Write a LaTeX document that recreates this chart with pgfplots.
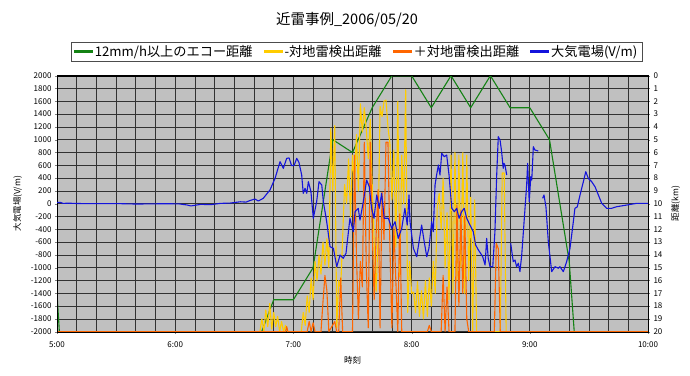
\documentclass[border=0pt]{standalone}
\usepackage{fontspec}
\setmainfont{Noto Sans CJK JP}
\usepackage{pgfplots}
\pgfplotsset{compat=1.18}
\definecolor{plotbg}{RGB}{192,192,192}
\definecolor{cgreen}{RGB}{20,130,20}
\definecolor{cyellow}{RGB}{255,204,0}
\definecolor{corange}{RGB}{255,102,0}
\definecolor{cblue}{RGB}{20,20,220}
\definecolor{cgrid}{RGB}{50,50,50}
\begin{document}
\begin{tikzpicture}
\useasboundingbox (0pt,0pt) rectangle (690pt,375pt);
\node[font=\fontsize{14.5}{16}\selectfont] at (347pt,355pt) {近雷事例\_2006/05/20};
% ---------- right axis: distances (km) ----------
\begin{axis}[at={(57pt,43.3pt)}, anchor=south west, scale only axis,
  width=591pt, height=256pt,
  xmin=0, xmax=300, ymin=0, ymax=20, y dir=reverse,
  axis background/.style={fill=plotbg},
  xtick={0,60,...,300}, minor xtick={0,10,...,300},
  xticklabels={5:00,6:00,7:00,8:00,9:00,10:00},
  ytick={0,1,...,20},
  xtick pos=bottom, ytick pos=right, yticklabel pos=right,
  tick align=outside, major tick length=2pt, minor tick length=0pt,
  grid=both, major grid style={cgrid, line width=0.7pt}, minor grid style={cgrid, line width=0.7pt},
  tick label style={font=\fontsize{8}{9}\selectfont},
  xticklabel style={yshift=-4pt},
  /pgf/number format/assume math mode=true,
  xlabel={時刻}, ylabel={距離(km)},
  label style={font=\fontsize{8.5}{10}\selectfont},
  xlabel style={yshift=-2pt},
  ylabel style={yshift=-2pt},
  unbounded coords=jump,
  every axis plot/.append style={line width=1.1pt, line join=round},
]
% 12mm/h echo distance
\addplot[cgreen] coordinates {
(0,17.0) (10,42) (100,21.6) (110,17.5) (120,17.5) (130,15.0) (140,5.0) (150,6.0)
(160,2.5) (170,0) (180,0) (190,2.5) (200,0) (210,2.5) (220,0) (230,2.5) (240,2.5)
(250,5.0) (260,14.5) (270,36)
};
% - lightning distance
\addplot[cyellow] coordinates {
(0,20) (103,20) (104,19) (105,20) (106,18.3) (107,19.6) (108,17.8) (109,19.8) (110,18.5)
(111,19.6) (112,18.8) (113,20) (114,19.2) (115,20) (116,19.5) (117,20) (124,20)
(125,18.5) (126,19.5) (127,17.2) (128,18.5) (129,15.8) (130,17.5) (131,14.5) (132,16)
(133,14) (134,15.5) (135,13) (136,14.8) (137,12.7) (138,15) (139,4.1) (140,9) (141,3.9)
(142,19.7) (143,16) (144,16.6) (145,12.6) (146,8.5) (147,10) (148,6.5) (149,11) (150,6.2)
(151,8.5) (152,4.6) (153,9) (154,2.2) (155,4.4) (156,2.5) (157,4.2) (158,6.5) (159,3.4)
(160,8.5) (161,13) (162,16.9) (163,12.5) (164,2.4) (165,3.2) (166,2) (167,1.9) (168,4)
(169,5.3) (170,9.7) (171,5.8) (172,13.4) (173,2) (174,15.7) (175,6.2) (176,10) (177,1.1)
(178,18.5) (179,14.5) (180,17) (181,16.9) (182,18.5) (183,16.1) (184,18.8) (185,16.8)
(186,19) (187,16) (188,18.8) (189,15.8) (190,18) (191,14.5) (192,17) (193,10.3) (194,9.2)
(195,12) (196,8) (197,15) (198,10.7) (199,17.5) (200,6.2) (201,17) (202,6) (203,16)
(204,6.2) (205,15) (206,6) (207,17) (208,6.2) (209,16) (210,9.5) (211,20) (212,9.7)
(213,20) (225,20) (226,7.6) (227,7.6) (228,20) (300,20)
};
% + lightning distance
\addplot[corange] coordinates {
(0,20) (116,20) (116.6,19.6) (117.2,20) (127,20) (128,19.2) (129,20) (130,19.3) (131,20)
(134,20) (135,17.7) (136,15.6) (137,16.8) (138,20) (141,19.2) (142,20) (143,20)
(144,15.8) (145,20) (150,20) (151,6.2) (152,14) (153,19) (154,14.5) (155,16.5) (156,5.2)
(157,15) (158,19.7) (159,5.2) (160,12) (161,17.5) (162,12.4) (163,8.9) (164,19.7)
(165,9.1) (166,12.8) (167,5.2) (168,5.2) (169,13.4) (170,19.7) (171,11.8) (172,16)
(173,20) (174,10.8) (175,20) (188,20) (189,19.5) (190,20) (195,20) (196,15.6) (197,20)
(198,16.5) (199,20) (202,20) (203,10.1) (204,18) (205,10.5) (206,17) (207,11) (208,19)
(209,20) (222,20) (223,13.1) (224,13.5) (225,20) (300,20)
};
\end{axis}
% ---------- left axis: electric field (V/m) ----------
\begin{axis}[at={(57pt,43.3pt)}, anchor=south west, scale only axis,
  width=591pt, height=256pt,
  xmin=0, xmax=300, ymin=-2000, ymax=2000,
  xtick=\empty,
  ytick={-2000,-1800,...,2000},
  ytick pos=left, yticklabel pos=left,
  tick align=outside, major tick length=2pt,
  tick label style={font=\fontsize{8}{9}\selectfont},
  /pgf/number format/assume math mode=true,
  /pgf/number format/set thousands separator={},
  ylabel={大気電場(V/m)},
  label style={font=\fontsize{8.5}{10}\selectfont},
  ylabel style={yshift=2pt},
  unbounded coords=jump,
  legend columns=4,
  legend style={at={(0.5,1)}, anchor=south, yshift=14.7pt, xshift=4pt, draw=black!70,
    font=\fontsize{13.2}{14.5}\selectfont, inner xsep=3pt, inner ysep=1pt,
    /tikz/every even column/.append style={column sep=9pt}},
  every axis plot/.append style={line width=1.1pt, line join=round},
]
\addlegendimage{legend image code/.code={\fill[fill=cgreen,draw=none] (0pt,-1.1pt) rectangle (19pt,1.1pt);}}
\addlegendentry{12mm/h以上のエコー距離}
\addlegendimage{legend image code/.code={\fill[fill=cyellow,draw=none] (0pt,-1.1pt) rectangle (19pt,1.1pt);}}
\addlegendentry{-対地雷検出距離}
\addlegendimage{legend image code/.code={\fill[fill=corange,draw=none] (0pt,-1.1pt) rectangle (19pt,1.1pt);}}
\addlegendentry{＋対地雷検出距離}
\addplot[cblue, legend image code/.code={\fill[fill=cblue,draw=none] (0pt,-1.1pt) rectangle (19pt,1.1pt);}] coordinates {
(0,20) (2,18) (3,5) (6,8) (10,3) (20,0) (30,2) (40,-5) (47,-3) (55,0) (62,-3) (66,-20)
(68,-35) (70,-25) (73,-10) (78,-15) (83,5) (88,10) (93,30) (96,25) (98,50) (100.5,73)
(102.2,42) (104.7,84) (108.1,214) (110.7,397) (113.2,656) (114.9,553) (116.6,709)
(117.8,715) (119.1,594) (120.4,600) (121.7,709) (122.8,647) (124.2,449) (125,162)
(125.9,240) (126.8,162) (127.6,344) (128.9,190) (130.1,-228) (131.8,31) (133,344)
(134.4,292) (135.2,31) (136.9,-281) (138.6,-672) (140.3,-697) (142,-984) (143.7,-802)
(145.3,-853) (146.7,-775) (148.7,-228) (150.4,-437) (151.3,-125) (152.9,-72)
(153.8,-255) (155.5,31) (157.2,370) (158.5,266) (159.7,-72) (160.9,-228) (162.3,136)
(163.6,-72) (164.8,162) (166.1,-228) (168.2,-228) (169.9,-384) (171.6,-281)
(173.2,-541) (175,-384) (176.6,-72) (177.8,-333) (178.7,136) (179.2,-281) (180.9,-697)
(182.6,-828) (185.1,-333) (186.4,-594) (187.7,-828) (188.8,-697) (190.2,-281)
(191,-437) (191.9,292) (192.7,449) (193.6,605) (194.4,449) (195.3,787) (196.6,734)
(197.8,761) (199,449) (200.4,-72) (201.7,-125) (202.9,-72) (204.1,-228) (205.4,-125)
(206.7,-72) (208,-228) (209.6,-333) (211.3,-437) (212.5,-645) (213.9,-723)
(215.6,-802) (216.1,-828) (217.3,-958) (218.1,-541) (218.9,-853) (219.8,-984)
(221.2,-984) (222.3,-437) (223.2,449) (224,1047) (224.9,995) (225.7,812) (226.5,553)
(226.9,631) (227.4,600) (228.3,449) (229,nan) (230.3,-619) (231.6,-906) (232.5,-880)
(233.3,-984) (234.2,-930) (235,-1062) (235.9,-802) (237.1,-281) (238.4,292)
(238.9,631) (239.7,31) (240.5,422) (241,370) (241.8,891) (242.6,839) (244.3,823)
(245,nan) (246.5,84) (247.2,136) (248.2,-50) (249.4,-594) (251.1,-1062) (252.8,-984)
(254.5,-1009) (255.3,-984) (257,-1062) (258.7,-906) (260.4,-697) (262.1,-281)
(262.9,-72) (264.1,-50) (265.5,136) (267.2,344) (268.4,500) (269.7,397) (271.4,344)
(273.1,266) (274.8,136) (276.5,6) (279,-72) (281.5,-72) (284.1,-47) (289.2,-21)
(294.3,6) (300,6)
};
\addlegendentry{大気電場(V/m)}
\end{axis}
\end{tikzpicture}
\end{document}
